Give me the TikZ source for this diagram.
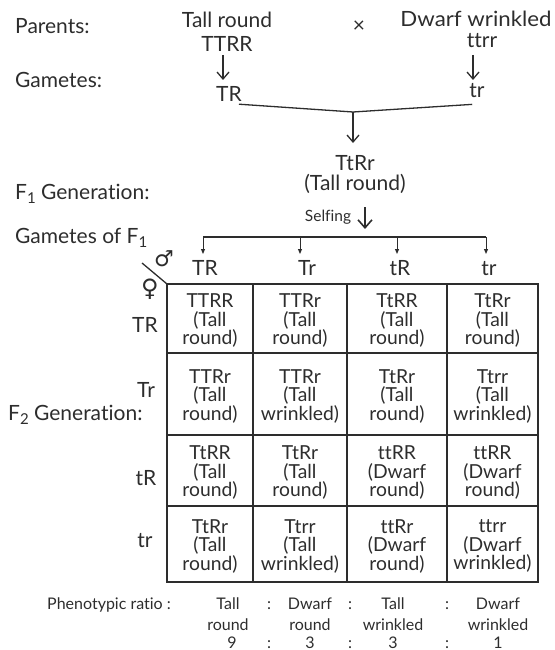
\documentclass[tikz,border=0pt]{standalone}
\usepackage{fontspec}
\setmainfont{Lato}[Ligatures={NoCommon}]
\newfontfamily\symfont{DejaVu Sans}
\usetikzlibrary{arrows.meta}
\definecolor{ink}{RGB}{45,45,45}

\newcommand{\sub}[1]{\raisebox{-0.45ex}{\fontsize{15}{15}\selectfont #1}}

\begin{document}
\begin{tikzpicture}[x=1pt,y=-1pt,
  every node/.style={inner sep=0pt,text=ink},
  lbl/.style={font=\fontsize{21}{21}\selectfont},
  cellbox/.style={font=\fontsize{19.3}{18.5}\selectfont,align=center},
  ratiotxt/.style={font=\fontsize{16}{16}\selectfont},
  downarr/.style={draw=ink,line width=1.3pt,-{Straight Barb[length=7pt,width=12pt,line width=1.3pt]}},
  bigarr/.style={draw=ink,line width=1.6pt,-{Straight Barb[length=8pt,width=14pt,line width=1.6pt]}},
  tiparr/.style={draw=ink,line width=1pt,-{Triangle[length=5pt,width=4pt]}},
  joinline/.style={draw=ink,line width=1.3pt},
  gridline/.style={draw=ink,line width=1.6pt}]
\useasboundingbox (0,0) rectangle (554,650);

% row labels on the left
\node[lbl,anchor=base west] (parents) at (15,34) {Parents:};
\node[lbl,anchor=base west] (gametes) at (15,88) {Gametes:};
\node[lbl,anchor=base west] (fone) at (15,199) {F\sub{1} Generation:};
\node[lbl,anchor=base west] (gfone) at (15,243) {Gametes of F\sub{1}};
\node[lbl,anchor=base west] (ftwo) at (8,420) {F\sub{2} Generation:};

% parental cross
\node[lbl,anchor=base] (ptall) at (227,28) {Tall round};
\node[lbl,anchor=base] (pTTRR) at (227,52) {TTRR};
\node[lbl] (cross) at (359,27) {×};
\node[lbl,anchor=base] (pdwarf) at (476,27) {\scalebox{1.06}[1]{Dwarf wrinkled}};
\node[lbl,anchor=base] (pttrr) at (482,48) {ttrr};

% gametes of the parents
\node[lbl,anchor=base] (gTR) at (229,102) {TR};
\node[lbl,anchor=base] (gtr) at (477,98) {tr};
\draw[downarr] (223,55) -- (223,80);
\draw[downarr] (473,55) -- (473,80);

% fertilisation
\coordinate (meet) at (353,112);
\draw[joinline] ([xshift=-3pt,yshift=-2pt]gTR.south east) -- (meet) -- ([xshift=3pt,yshift=-6pt]gtr.south west);
\node[lbl,anchor=base] (f1) at (355,170) {TtRr};
\node[lbl,anchor=base] (f1ph) at (355,190) {(Tall round)};
\draw[downarr] (meet) -- (meet |- 0,143);

% selfing
\node[font=\fontsize{15.5}{15.5}\selectfont,anchor=base] (self) at (328,221) {Selfing};
\draw[bigarr] (365,207) -- (365,229);

% distribution of F1 gametes
\node[lbl,anchor=base] (cTR) at (205,275) {TR};
\node[lbl,anchor=base] (cTr) at (307,275) {Tr};
\node[lbl,anchor=base] (ctR) at (400,275) {tR};
\node[lbl,anchor=base] (ctr) at (489,275) {tr};
\coordinate (brL) at (203,237);
\coordinate (brR) at (486,237);
\draw[joinline,line width=1.1pt] (brL) -- (brR);
\foreach \x in {203,300,397,486}
  \draw[tiparr] (\x,237) -- (\x,254);

% corner of the checkerboard
\draw[draw=ink,line width=1.3pt] (142,263) -- (167,284);
\node[font=\symfont\fontsize{22}{22}\selectfont] (male) at (164,259) {♂};
\node[font=\symfont\fontsize{24}{24}\selectfont] (female) at (150,289) {♀};

% female gametes
\node[lbl,anchor=base] (rTR) at (145,332) {TR};
\node[lbl,anchor=base] (rTr) at (146,397) {Tr};
\node[lbl,anchor=base] (rtR) at (146,485) {tR};
\node[lbl,anchor=base] (rtr) at (145,547) {tr};

% checkerboard
\draw[gridline] (167,284) rectangle (538,582);
\foreach \x in {253,347,447} \draw[gridline] (\x,284) -- (\x,582);
\foreach \y in {353,435,506} \draw[gridline] (167,\y) -- (538,\y);

\foreach \txt [count=\i from 0] in {
  {TTRR\\(Tall\\round)},{TTRr\\(Tall\\round)},{TtRR\\(Tall\\round)},{TtRr\\(Tall\\round)},
  {TTRr\\(Tall\\round)},{TTRr\\(Tall\\wrinkled)},{TtRr\\(Tall\\round)},{Ttrr\\(Tall\\wrinkled)},
  {TtRR\\(Tall\\round)},{TtRr\\(Tall\\round)},{ttRR\\(Dwarf\\round)},{ttRR\\(Dwarf\\round)},
  {TtRr\\(Tall\\round)},{Ttrr\\(Tall\\wrinkled)},{ttRr\\(Dwarf\\round)},{ttrr\\(Dwarf\\wrinkled)}}{
  \pgfmathtruncatemacro{\r}{int(\i/4)}
  \pgfmathtruncatemacro{\c}{mod(\i,4)}
  \pgfmathsetmacro{\cx}{{210,300,397,492.5}[\c]}
  \pgfmathsetmacro{\cy}{{318.5,394,470.5,544}[\r]+2}
  \node[cellbox] (cell\r\c) at (\cx,\cy) {\txt};
}

% phenotypic ratio
\node[ratiotxt,anchor=base west] (ratiolbl) at (47,609) {Phenotypic ratio :};
\node[ratiotxt,anchor=base] (ph1) at (228,609) {Tall};
\node[ratiotxt,anchor=base] (ph1b) at (228,630) {round};
\node[ratiotxt,anchor=base] (n1) at (232,648) {9};
\node[ratiotxt,anchor=base] (ph2) at (310,609) {Dwarf};
\node[ratiotxt,anchor=base] (ph2b) at (310,630) {round};
\node[ratiotxt,anchor=base] (n2) at (310,648) {3};
\node[ratiotxt,anchor=base] (ph3) at (393,609) {Tall};
\node[ratiotxt,anchor=base] (ph3b) at (393,630) {wrinkled};
\node[ratiotxt,anchor=base] (n3) at (393,648) {3};
\node[ratiotxt,anchor=base] (ph4) at (498,609) {Dwarf};
\node[ratiotxt,anchor=base] (ph4b) at (498,630) {wrinkled};
\node[ratiotxt,anchor=base] (n4) at (498,648) {1};
\foreach \x in {269,350,447} {
  \node[ratiotxt,anchor=base] at (\x,609) {:};
  \node[ratiotxt,anchor=base] at (\x,648) {:};
}
\end{tikzpicture}
\end{document}
